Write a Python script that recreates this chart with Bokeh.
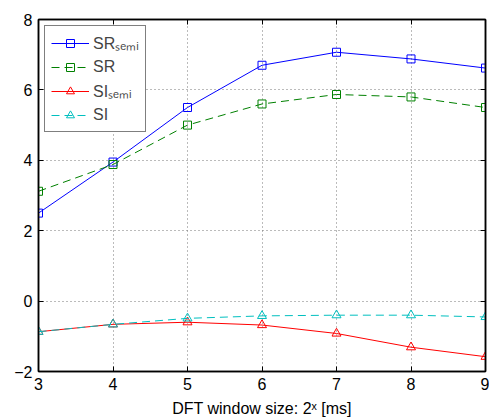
from bokeh.plotting import figure
from bokeh.models import LinearAxis, Range1d, FixedTicker, Legend, LegendItem
from bokeh.embed import file_html
from bokeh.resources import INLINE

x = [3, 4, 5, 6, 7, 8, 9]
sr_semi = [2.5, 3.95, 5.5, 6.7, 7.07, 6.88, 6.62]
sr = [3.12, 3.88, 5.0, 5.6, 5.87, 5.8, 5.5]
si_semi = [-0.87, -0.66, -0.6, -0.68, -0.92, -1.31, -1.58]
si = [-0.87, -0.66, -0.49, -0.42, -0.4, -0.4, -0.45]
xticks = [3, 4, 5, 6, 7, 8, 9]
yticks = [-2, 0, 2, 4, 6, 8]

FONT = "Liberation Sans"

p = figure(width=489, height=420, output_backend="svg", toolbar_location=None,
           x_range=Range1d(3, 9), y_range=Range1d(-2, 8),
           min_border_left=38, min_border_right=4, min_border_top=19, min_border_bottom=49)

p.outline_line_color = "black"
p.outline_line_width = 1.5
p.background_fill_color = "white"
p.border_fill_color = "white"

for ax in (p.xaxis[0], p.yaxis[0]):
    ax.major_tick_in = 5
    ax.major_tick_out = 0
    ax.minor_tick_in = 0
    ax.minor_tick_out = 0
    ax.axis_line_color = "black"
    ax.axis_line_width = 1.5
    ax.major_label_text_font = FONT
    ax.major_label_text_font_size = "16px"
    ax.major_label_text_color = "black"

p.xaxis[0].ticker = FixedTicker(ticks=xticks)
p.yaxis[0].ticker = FixedTicker(ticks=yticks)
p.yaxis[0].major_label_overrides = {-2: "\u22122"}
p.xaxis[0].axis_label = "DFT window size: 2\u02e3 [ms]"
p.xaxis[0].axis_label_text_font = FONT
p.xaxis[0].axis_label_text_font_size = "16px"
p.xaxis[0].axis_label_text_font_style = "normal"
p.xaxis[0].axis_label_text_color = "black"
p.xaxis[0].axis_label_standoff = 7
p.xaxis[0].major_label_standoff = 6
p.yaxis[0].major_label_standoff = 6

p.xgrid.ticker = FixedTicker(ticks=xticks)
p.ygrid.ticker = FixedTicker(ticks=yticks)
for g in (p.xgrid[0], p.ygrid[0]):
    g.grid_line_color = "#777777"
    g.grid_line_dash = "1 3"
    g.grid_line_width = 1

blue, green, red, cyan = "#0000ff", "#008000", "#ff0000", "#00bfbf"

r1 = p.line(x, sr_semi, line_color=blue, line_width=1)
m1 = p.scatter(x, sr_semi, marker="square", size=8, fill_color=None, line_color=blue)
r2 = p.line(x, sr, line_color=green, line_width=1, line_dash="8 5")
m2 = p.scatter(x, sr, marker="square", size=8, fill_color=None, line_color=green)
r3 = p.line(x, si_semi, line_color=red, line_width=1)
m3 = p.scatter(x, si_semi, marker="triangle", size=9, fill_color=None, line_color=red)
r4 = p.line(x, si, line_color=cyan, line_width=1, line_dash="8 5")
m4 = p.scatter(x, si, marker="triangle", size=9, fill_color=None, line_color=cyan)

legend = Legend(items=[
    LegendItem(label="SR\u209b\u2091\u2098\u1d62", renderers=[r1, m1]),
    LegendItem(label="SR", renderers=[r2, m2]),
    LegendItem(label="SI\u209b\u2091\u2098\u1d62", renderers=[r3, m3]),
    LegendItem(label="SI", renderers=[r4, m4]),
], location="top_left")
legend.label_text_font = FONT
legend.label_text_font_size = "16px"
legend.glyph_width = 38
legend.glyph_height = 20
legend.label_standoff = 4
legend.spacing = 3
legend.padding = 6
legend.margin = 6
legend.border_line_color = "black"
legend.border_line_width = 1
legend.background_fill_alpha = 1
p.add_layout(legend)

# box ticks on top and right
for loc, tk in (("right", yticks), ("above", xticks)):
    ax = LinearAxis(ticker=FixedTicker(ticks=tk))
    ax.major_tick_in = 5
    ax.major_tick_out = 0
    ax.minor_tick_in = 0
    ax.minor_tick_out = 0
    ax.major_label_text_font_size = "0px"
    ax.major_label_text_alpha = 0
    ax.major_label_standoff = 0
    ax.axis_line_color = "black"
    ax.axis_line_width = 1.5
    p.add_layout(ax, loc)

open("out.html", "w").write(file_html(p, INLINE))
